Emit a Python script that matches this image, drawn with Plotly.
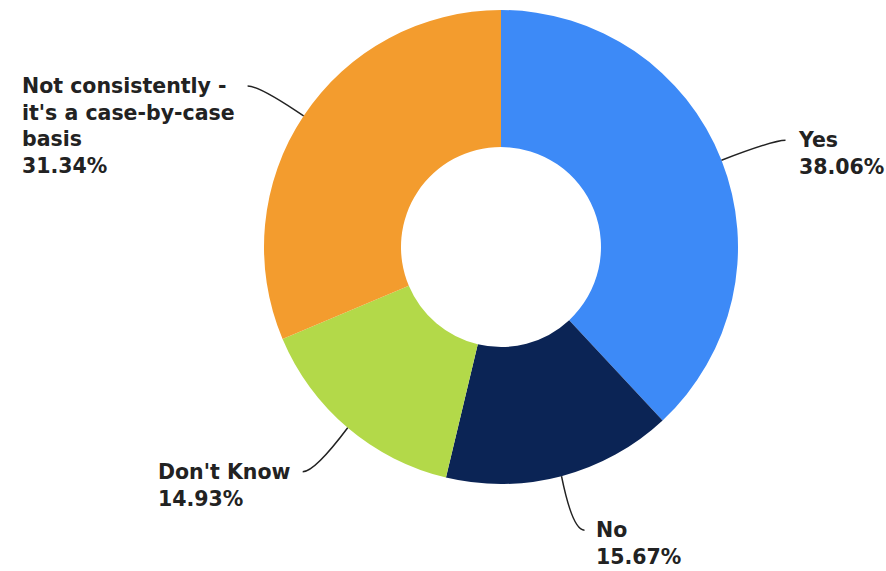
import math
import plotly.graph_objects as go

# ---- data ----
labels = ["Yes", "No", "Don't Know", "Not consistently - it's a case-by-case basis"]
label_lines = [["Yes"], ["No"], ["Don't Know"], ["Not consistently -", "it's a case-by-case", "basis"]]
values = [38.06, 15.67, 14.93, 31.34]
colors = ["#3d8af7", "#0b2455", "#b3d949", "#f39c2e"]

# ---- layout (pixels) ----
W, H = 886, 571
CX, CY, R = 501, 247, 237
HOLE = 100 / 237
FONT = dict(family="DejaVu Sans", size=20.5, color="#222222")
# connector offsets (dx, dy) from slice edge to label, and label side
conn = [(64, -20), (23, 54), (-45, 44), (-56, -30)]
side = ["right", "right", "left", "left"]

fig = go.Figure()
fig.add_trace(go.Pie(
    labels=labels, values=values, sort=False, direction="clockwise", rotation=0,
    hole=HOLE, textinfo="none", hoverinfo="label+percent",
    marker=dict(colors=colors, line=dict(width=0)),
    domain=dict(x=[(CX - R) / W, (CX + R) / W], y=[1 - (CY + R) / H, 1 - (CY - R) / H]),
    showlegend=False,
))

total = sum(values)
cum = 0.0
shapes, annotations = [], []
for i, v in enumerate(values):
    mid = (cum + v / 2) / total * 2 * math.pi
    cum += v
    sx = CX + R * math.sin(mid)
    sy = CY - R * math.cos(mid)
    dx, dy = conn[i]
    ex, ey = sx + dx, sy + dy
    # control point makes the connector end horizontally
    cx = ex - (12 if side[i] == "right" else -12)
    cy = ey
    shapes.append(dict(type="path", xref="x", yref="y",
                       path=f"M {sx:.1f},{sy:.1f} Q {cx:.1f},{cy:.1f} {ex:.1f},{ey:.1f}",
                       line=dict(color="#222222", width=1.5)))
    pct = f"{v / total * 100:.2f}%"
    text = "<br>".join([f"<b>{t}</b>" for t in label_lines[i]] + [f"<b>{pct}</b>"])
    line_h = 26
    top = ey - line_h / 2
    if side[i] == "right":
        annotations.append(dict(x=ex + 11, y=top, xref="x", yref="y", text=text,
                                xanchor="left", yanchor="top", align="left",
                                showarrow=False, font=FONT, borderpad=0))
    else:
        annotations.append(dict(x=ex - 12, y=top, xref="x", yref="y", text=text,
                                xanchor="right", yanchor="top", align="left",
                                showarrow=False, font=FONT, borderpad=0))

fig.update_layout(
    width=W, height=H, margin=dict(l=0, r=0, t=0, b=0),
    paper_bgcolor="white", plot_bgcolor="rgba(0,0,0,0)",
    xaxis=dict(range=[0, W], visible=False, fixedrange=True),
    yaxis=dict(range=[H, 0], visible=False, fixedrange=True),
    shapes=shapes, annotations=annotations,
)
fig.write_html("out.html", config={"displayModeBar": False},
               post_script="document.body.style.margin='0';document.body.style.overflow='hidden';")
